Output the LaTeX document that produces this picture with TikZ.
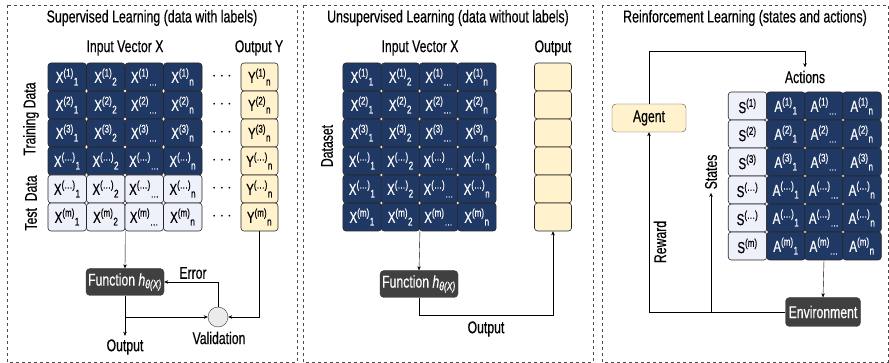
\documentclass[tikz,border=0pt]{standalone}
\usepackage{fontspec}
\setmainfont{Liberation Sans}[FakeStretch=0.72,FakeBold=0.4]
\usepackage{tikz}
\usetikzlibrary{arrows.meta,positioning}

\definecolor{navy}{HTML}{203864}
\definecolor{lavender}{HTML}{EEF0FA}
\definecolor{cream}{HTML}{FFF2CC}
\definecolor{fungray}{HTML}{404040}

\newcommand{\cellent}[3]{#1\textsuperscript{(#2)}\textsubscript{#3}}

\begin{document}
\begin{tikzpicture}
  [x=1pt,y=-1pt,>={Stealth[length=4pt,width=3.5pt]},
   panel/.style={draw=black!70,dashed,line width=0.5pt},
   title/.style={font=\fontsize{17.2}{17.2}\selectfont},
   lab/.style={font=\fontsize{17}{17}\selectfont},
   cell/.style={rectangle,rounded corners=3pt,draw=black!85,line width=0.6pt,
     minimum width=38.5pt,minimum height=28pt,inner sep=0pt,
     font=\fontsize{16}{16}\selectfont},
   xdark/.style={cell,fill=navy,text=white},
   xlight/.style={cell,fill=lavender},
   ycell/.style={cell,fill=cream,minimum width=37pt},
   func/.style={rectangle,rounded corners=4pt,draw=black!80,fill=fungray,text=white,
     minimum width=78pt,minimum height=27pt,inner sep=1pt,font=\fontsize{17}{17}\selectfont},
   agentbox/.style={rectangle,rounded corners=4pt,draw=black!70,fill=cream,
     minimum width=74pt,minimum height=28pt,font=\fontsize{17}{17}\selectfont},
   checkpt/.style={circle,draw=black!80,fill=black!8,minimum size=20pt,inner sep=0pt}]
  \useasboundingbox (0,0) rectangle (889,363);

  % panels
  \draw[panel] (7,5) rectangle (297,362);
  \draw[panel] (303,5) rectangle (593,362);
  \draw[panel] (602,5) rectangle (888,362);
  \node[title] (t_sup) at (152,18) {Supervised Learning (data with labels)};
  \node[title] (t_uns) at (448,18) {Unsupervised Learning (data without labels)};
  \node[title] (t_rl) at (745,18) {Reinforcement Learning (states and actions)};

  % supervised
  \node[lab] (in_sup) at (125,48) {Input Vector X};
  \node[lab] (out_sup) at (259,48) {Output Y};
  \foreach \r/\s/\st in {1/1/xdark,2/2/xdark,3/3/xdark,4/\dots/xdark,5/\dots/xlight,6/m/xlight} {
    \foreach \c/\b in {1/1,2/2,3/\dots,4/n}
      \node[\st] (tx-\r-\c) at (28.75+38.5*\c,49+28*\r) {\cellent{X}{\s}{\b}};
    \node[lab] (dots-\r) at (222,49+28*\r) {$\cdots$};
    \node[ycell] (ty-\r) at (259.5,49+28*\r) {\cellent{Y}{\s}{n}};
  }
  \node[lab,rotate=90] (train) at (31,119) {Training Data};
  \node[lab,rotate=90] (test) at (31,203) {Test\ \ Data};
  \node[func] (fun) at (125,282) {Function \textit{h}\textsubscript{\textit{θ(X)}}};
  \node[checkpt] (val) at (218,317) {};
  \node[lab] (valid) at (219,338) {Validation};
  \node[lab] (err) at (193,273) {Error};
  \node[lab] (res_sup) at (125,347) {Output};
  \draw [->] (tx-6-2.south east) -- (fun.north);
  \draw [->] (fun.south) -- (res_sup.north);
  \draw [->] (fun.south |- val.west) -- (val.west);
  \draw [->] (ty-6.south) |- (val.east);
  \draw [->] (val.north) |- (fun.east);

  % unsupervised
  \node[lab] (in_uns) at (420,48) {Input Vector X};
  \node[lab] (out_uns) at (553,48) {Output};
  \foreach \r/\s in {1/1,2/2,3/3,4/\dots,5/\dots,6/m} {
    \foreach \c/\b in {1/1,2/2,3/\dots,4/n}
      \node[xdark] (ux-\r-\c) at (323.9+38.25*\c,49+28*\r) {\cellent{X}{\s}{\b}};
    \node[ycell] (uo-\r) at (553,49+28*\r) {};
  }
  \node[lab,rotate=90] (dataset) at (327,146) {Dataset};
  \node[func] (fun2) at (419,284) {Function \textit{h}\textsubscript{\textit{θ(X)}}};
  \node[lab] (res_uns) at (486,329) {Output};
  \draw [->] (ux-6-2.south east) -- (fun2.north);
  \draw [->] (fun2.south) -- ++(0,18) -| (uo-6.south);

  % reinforcement
  \node[agentbox] (agent) at (649,118) {Agent};
  \node[lab] (actions) at (805,77) {Actions};
  \coordinate (turn) at (805,51);
  \foreach \r/\s in {1/1,2/2,3/3,4/\dots,5/\dots,6/m} {
    \node[xlight] (rs-\r) at (747.5,78+28*\r) {S\textsuperscript{(\s)}};
    \foreach \c/\b in {1/1,2/\dots,3/n}
      \node[xdark] (ra-\r-\c) at (748+38*\c,78+28*\r) {\cellent{A}{\s}{\b}};
  }
  \node[func,minimum width=75pt,minimum height=29pt] (env) at (823,312) {Environment};
  \node[lab,rotate=90] (states) at (711,172) {States};
  \node[lab,rotate=90] (reward) at (660,242) {Reward};
  \draw [->] (agent.north) |- (turn) -- (actions.north);
  \draw [->] (ra-6-2.south) -- (env.north);
  \draw [->] (env.west) -| (agent.south);
  \draw [->] (env.west -| states.west) -- (states.west);
\end{tikzpicture}
\end{document}
